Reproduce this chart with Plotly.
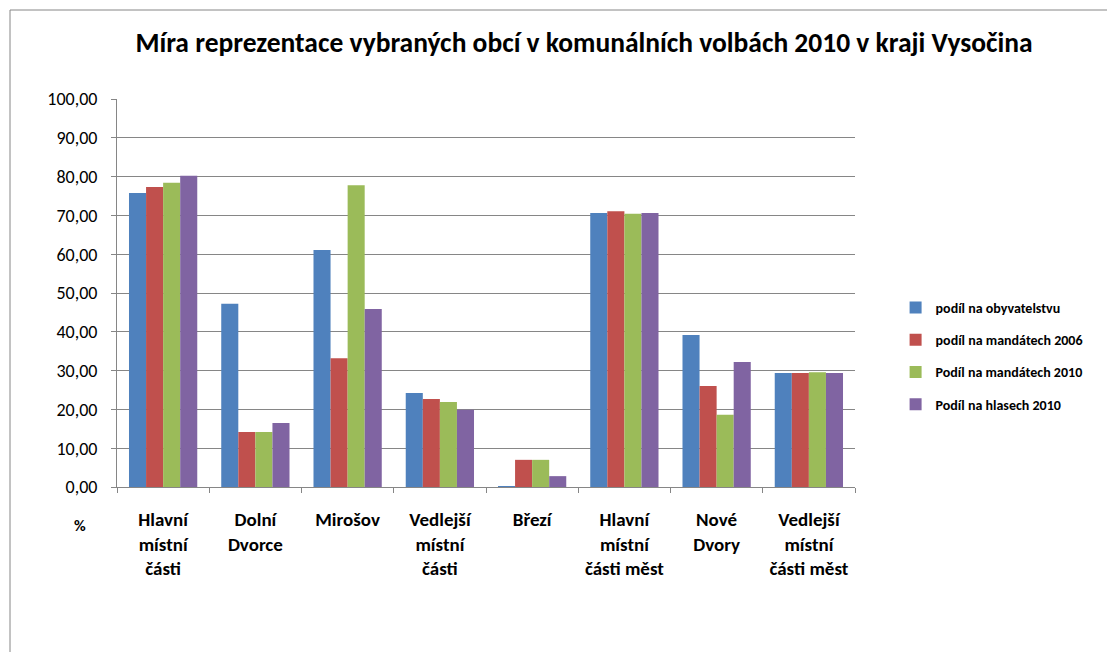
import plotly.graph_objects as go

categories = ["Hlavní<br>místní<br>části", "Dolní<br>Dvorce", "Mirošov", "Vedlejší<br>místní<br>části",
              "Březí", "Hlavní<br>místní<br>části měst", "Nové<br>Dvory", "Vedlejší<br>místní<br>části měst"]
podil_obyvatelstvu = [75.8, 47.2, 61.1, 24.2, 0.1, 70.6, 39.2, 29.4]
podil_mandaty_2006 = [77.3, 14.2, 33.2, 22.7, 7.0, 71.1, 26.0, 29.4]
podil_mandaty_2010 = [78.4, 14.2, 77.8, 21.9, 7.0, 70.4, 18.6, 29.6]
podil_hlasy_2010 = [80.2, 16.5, 45.9, 19.9, 2.8, 70.6, 32.2, 29.4]
series_names = ["podíl na obyvatelstvu", "podíl na mandátech 2006",
                "Podíl na mandátech 2010", "Podíl na hlasech 2010"]
colors = ["#4F81BD", "#C0504D", "#9BBB59", "#8064A2"]
y_ticks = [0, 10, 20, 30, 40, 50, 60, 70, 80, 90, 100]

FONT = "Carlito, 'Liberation Sans Narrow', 'DejaVu Sans Condensed', sans-serif"

# figure is placed with an 8px page margin, so figure coords = page coords - 8
W, H = 1107, 644
L, T, R, B = 109, 91, 260, 165
PW = W - L - R  # 738
PH = H - T - B  # 388

fig = go.Figure()
for i, (name, vals, c) in enumerate(zip(series_names,
                         [podil_obyvatelstvu, podil_mandaty_2006, podil_mandaty_2010, podil_hlasy_2010],
                         colors)):
    fig.add_trace(go.Bar(x=categories, y=vals, name="<b>" + name + "</b>", marker_color=c,
                         marker_line_width=0, legendgroup="g%d" % i))

fig.update_layout(
    width=W, height=H,
    paper_bgcolor="white", plot_bgcolor="white",
    margin=dict(l=L, r=R, t=T, b=B),
    barmode="group", bargap=0.26, bargroupgap=0,
    separators=",.",
    font=dict(family=FONT, color="black"),
    title=dict(text="<b>Míra reprezentace vybraných obcí v komunálních volbách 2010 v kraji Vysočina</b>",
               x=576 / W, xanchor="center", y=1 - 34 / H, yanchor="middle",
               font=dict(size=27.5, family=FONT, color="black")),
    legend=dict(x=1.055, y=(H - B - 348) / PH, xanchor="left", yanchor="middle",
                font=dict(size=14, family=FONT, color="black"),
                tracegroupgap=11, itemwidth=30, traceorder="grouped"),
    showlegend=True,
)
fig.update_xaxes(type="category", showline=True, linecolor="#868686", linewidth=1,
                 ticks="outside", tickson="boundaries", ticklen=5, tickcolor="#868686",
                 ticklabelstandoff=15,
                 tickfont=dict(size=19, family=FONT, color="black", weight="bold"),
                 showgrid=False)
fig.update_yaxes(range=[0, 100], tickvals=y_ticks, tickformat=".2f",
                 showline=True, linecolor="#868686", linewidth=1,
                 ticks="outside", ticklen=5, tickcolor="#868686",
                 ticklabelstandoff=10,
                 gridcolor="#868686", gridwidth=1,
                 tickfont=dict(size=18, family=FONT, color="black"), zeroline=False)

fig.add_annotation(text="<b>%</b>", x=(72 - L) / PW, y=(H - B - 517) / PH, xref="paper", yref="paper",
                   xanchor="center", yanchor="middle",
                   showarrow=False, font=dict(size=16, family=FONT, color="black"))
fig.add_shape(type="rect", xref="paper", yref="paper",
              x0=(2 - L) / PW, x1=(1105 - L) / PW, y0=(H - B - 660) / PH, y1=(H - B - 2) / PH,
              line=dict(color="#868686", width=1), fillcolor="rgba(0,0,0,0)", layer="below")
fig.write_html("out.html")
